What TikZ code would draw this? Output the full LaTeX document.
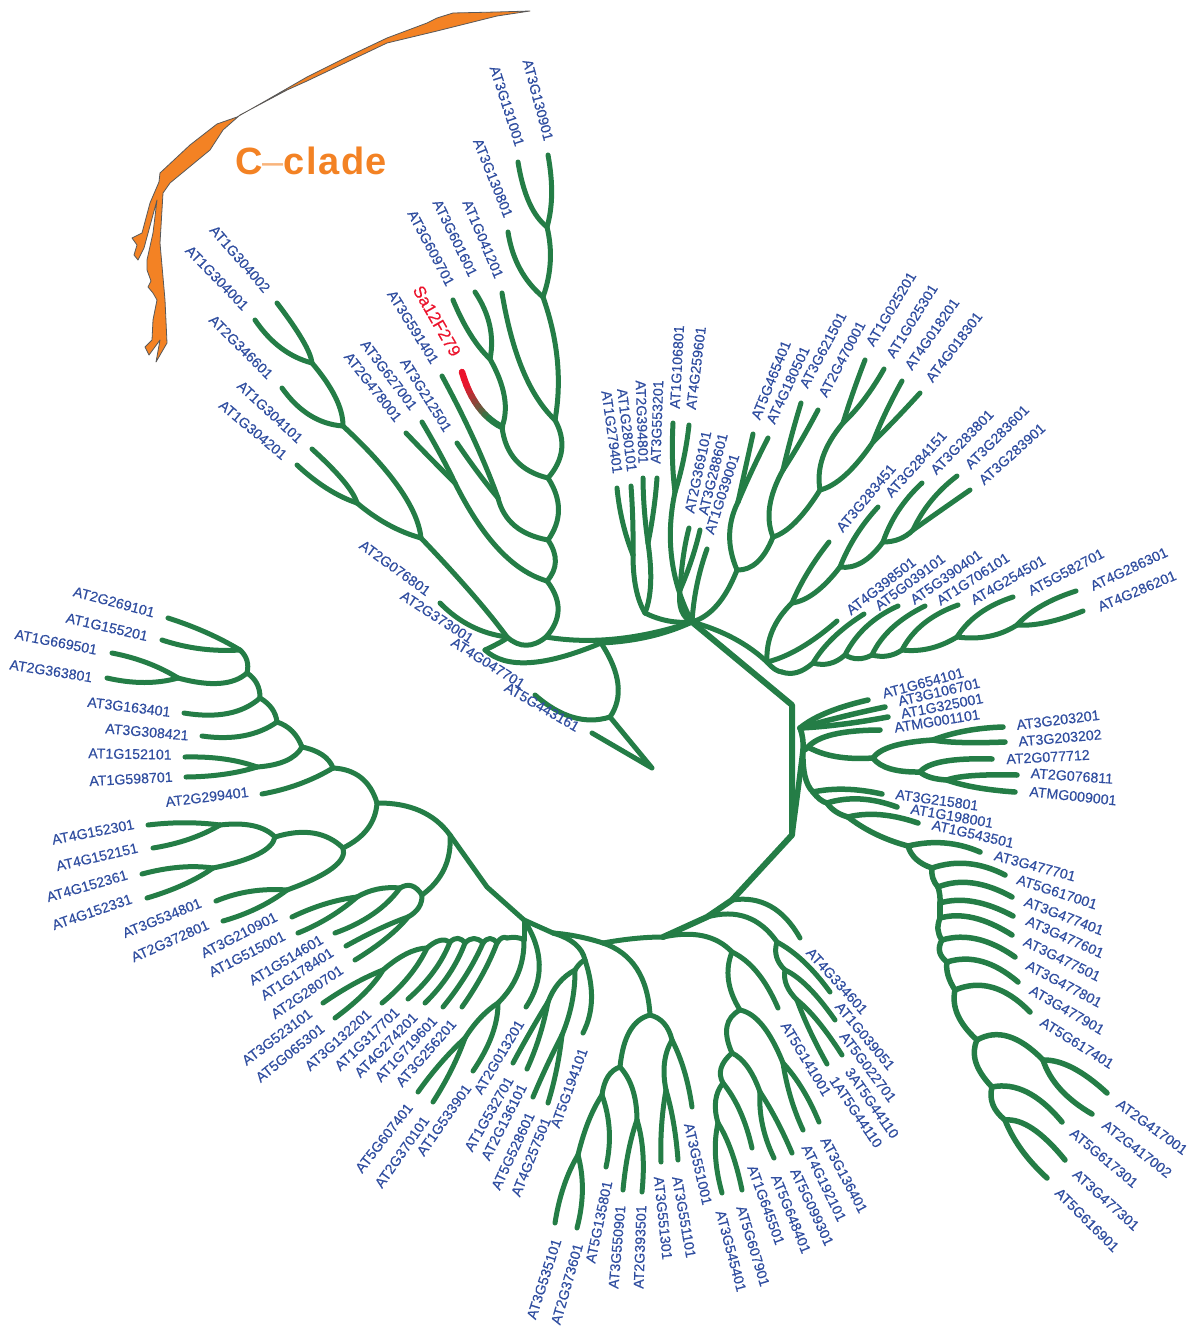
\documentclass[tikz,border=0pt]{standalone}
\usepackage{fontspec}
\setmainfont{Liberation Sans}
\newfontfamily\genefont[FakeBold=0.35]{Liberation Sans}
\usetikzlibrary{calc}
\definecolor{treegreen}{RGB}{36,125,70}
\definecolor{genblue}{RGB}{48,78,160}
\definecolor{cladeorange}{RGB}{243,130,36}
\definecolor{tipred}{RGB}{235,20,45}
\tikzset{
    branch/.style={draw=treegreen, line width=5pt, line cap=round, line join=round},
    stem/.style={draw=treegreen, line width=6pt, line cap=round, line join=round},
    gene/.style={text=genblue, font=\genefont\fontsize{14.2}{15}\selectfont, inner sep=0pt},
    redgene/.style={text=tipred, font=\genefont\fontsize{17}{18}\selectfont, inner sep=0pt},
    common settings/.style={x=1pt, y=-1pt}
}
% curved branch: from, bend point, to
\newcommand{\bend}[3]{\draw[branch] (#1) .. controls ($(#2)+0.1667*(#1)-0.1667*(#3)$) and ($(#2)-0.1667*(#1)+0.1667*(#3)$) .. (#3);}
% inner point of the tree: name, position, parent, bend point
\newcommand{\clade}[4]{\coordinate (#1) at (#2); \bend{#3}{#4}{#1}}
% tip with its label: gene, parent, bend point, tip, label centre, rotation
\newcommand{\leaf}[6]{\coordinate (#1 tip) at (#4); \bend{#2}{#3}{#1 tip}
    \node[gene, rotate=#6] (#1) at (#5) {#1};}

\begin{document}
\begin{tikzpicture}[common settings]
    \useasboundingbox (0,0) rectangle (1191,1328);

    % Collapsed C-clade
    \fill[cladeorange, draw=black!65, line width=0.8pt, line join=round] (530,11) -- (497,12) -- (453,13) -- (437,18) -- (427,23) -- (387,38) -- (347,57) -- (307,77) -- (267,100) -- (237,117) -- (217,124) -- (190,145) -- (160,173) -- (159,182) -- (150,203) -- (142,233) -- (132,238) -- (137,245) -- (134,255) -- (138,260) -- (144,248) -- (157,200) -- (153,233) -- (147,260) -- (147,270) -- (151,281) -- (148,287) -- (153,293) -- (157,300) -- (153,320) -- (152,340) -- (145,347) -- (149,355) -- (160,340) -- (156,362) -- (167,343) -- (165,300) -- (160,243) -- (163,193) -- (170,183) -- (210,150) -- (223,130) -- (240,115) -- (287,90) -- (307,81) -- (347,62) -- (387,43) -- (437,31) -- (497,16) -- cycle;
    \node[text=cladeorange, font=\fontsize{38}{39}\selectfont\bfseries\addfontfeature{LetterSpace=4}, inner sep=0pt] (cclade) at (311,161) {C{\mdseries\color{cladeorange!60}--}clade};

    % Backbone
    \coordinate (hub) at (692,622);
    \coordinate (corner1) at (792,705);
    \coordinate (corner2) at (792,835);
    \coordinate (bottom1) at (732,900);
    \coordinate (bottom2) at (707,917);
    \coordinate (bottom3) at (663,937);
    \coordinate (m3) at (524,920);
    \coordinate (m4) at (487,887);
    \coordinate (FA) at (450,835);
    \draw[stem] (hub) -- (corner1) -- (corner2) -- (bottom1) -- (bottom2) -- (bottom3);
    \clade{m1}{603,943}{bottom3}{635,938}
    \clade{m2}{553,933}{m1}{578,936}
    \draw[branch] (m2) -- (m3) -- (m4) -- (FA);

    % Upper left clades
    \clade{A}{546,637}{hub}{615,642}
    \clade{LN}{601,643}{hub}{650,638}
    \leaf{AT4G047701}{LN}{525,668}{485,650}{488,663}{-32}
    \clade{LM}{610,717}{LN}{622,685}
    \leaf{AT5G443161}{LM}{573,721}{535,695}{542,707}{-30}
    \coordinate (LP) at (652,768);
    \coordinate (LT) at (592,733);
    \draw[branch] (LM) -- (LP) -- (LT);

    \clade{B}{547,581}{A}{562,610}
    \clade{C}{507,637}{A}{526,648}
    \leaf{AT2G076801}{C}{470,628}{440,603}{395,568}{-36}
    \clade{D}{421,538}{C}{474,595}
    \leaf{AT2G373001}{C}{505,640}{485,650}{437,617}{-33}
    \clade{E}{343,426}{D}{405,490}
    \clade{F}{357,503}{D}{388,526}
    \leaf{AT1G304101}{F}{346,482}{312,449}{270,412}{-43}
    \leaf{AT1G304201}{F}{327,490}{297,465}{253,430}{-40}
    \clade{G}{312,363}{E}{338,398}
    \leaf{AT2G346601}{E}{309,418}{282,388}{241,347}{-45}
    \leaf{AT1G304002}{G}{305,342}{277,303}{240,259}{-49}
    \leaf{AT1G304001}{G}{280,350}{255,320}{217,278}{-46}

    \clade{H}{548,540}{B}{558,562}
    \clade{I}{455,483}{B}{498,555}
    \leaf{AT3G627001}{I}{441,455}{422,422}{389,375}{-53}
    \leaf{AT2G478001}{I}{430,458}{406,433}{373,387}{-52}
    \clade{J}{548,478}{H}{562,510}
    \clade{K}{498,498}{H}{512,528}
    \leaf{AT3G591401}{K}{475,440}{442,376}{413,327}{-58}
    \leaf{AT3G212501}{K}{478,473}{457,443}{426,395}{-58}
    \clade{L}{555,420}{J}{565,450}
    \clade{M}{502,427}{J}{513,463}
    % Highlighted tip, red fading into the tree colour
    \foreach \i in {0,...,11} {
        \pgfmathsetmacro{\ta}{\i/12}
        \pgfmathsetmacro{\tb}{(\i+1)/12}
        \pgfmathsetmacro{\xa}{(1-\ta)^2*462+2*(1-\ta)*\ta*474+\ta^2*502}
        \pgfmathsetmacro{\ya}{(1-\ta)^2*372+2*(1-\ta)*\ta*413+\ta^2*427}
        \pgfmathsetmacro{\xb}{(1-\tb)^2*462+2*(1-\tb)*\tb*474+\tb^2*502}
        \pgfmathsetmacro{\yb}{(1-\tb)^2*372+2*(1-\tb)*\tb*413+\tb^2*427}
        \pgfmathsetmacro{\shadeval}{max(0,min(100,125-\i*14))}
        \draw[line width=6.5pt, line cap=round, draw=tipred!\shadeval!treegreen] (\xa,\ya) -- (\xb,\yb);
    }
    \node[redgene, rotate=-60] (Sa12F279) at (437,321) {Sa12F279};
    \clade{N}{490,359}{M}{507,397}
    \leaf{AT3G609701}{N}{470,336}{453,300}{431,248}{-62}
    \leaf{AT3G601601}{N}{492,325}{475,292}{455,238}{-64}
    \clade{O}{543,297}{L}{560,360}
    \leaf{AT1G041201}{L}{521,375}{502,293}{483,239}{-67}
    \clade{P}{547,227}{O}{552,262}
    \leaf{AT3G130801}{O}{518,270}{508,232}{493,178}{-68}
    \leaf{AT3G131001}{P}{528,205}{518,162}{507,106}{-72}
    \leaf{AT3G130901}{P}{553,195}{548,155}{538,100}{-75}

    % Upper middle clades
    \clade{Q}{645,613}{hub}{668,622}
    \clade{R}{633,555}{Q}{635,590}
    \leaf{AT1G279401}{R}{622,523}{617,488}{612,432}{-82}
    \leaf{AT1G280101}{R}{633,520}{631,486}{627,430}{-83}
    \clade{S}{648,543}{Q}{652,585}
    \leaf{AT2G394801}{S}{644,510}{643,478}{642,422}{-88}
    \leaf{AT3G553201}{S}{654,510}{657,478}{657,422}{88}
    \clade{T}{675,492}{hub}{668,560}
    \leaf{AT1G106801}{T}{672,460}{673,423}{677,367}{87}
    \leaf{AT4G259601}{T}{684,460}{689,425}{696,368}{83}
    \clade{U}{680,590}{hub}{680,612}
    \leaf{AT2G369101}{U}{683,555}{689,528}{698,472}{78}
    \leaf{AT3G288601}{U}{692,560}{700,530}{713,474}{76}
    \leaf{AT1G039001}{hub}{696,585}{707,549}{722,494}{72}
    \clade{V}{737,570}{hub}{718,608}
    \clade{W}{773,537}{V}{758,565}
    \clade{X}{738,502}{V}{727,535}
    \leaf{AT5G465401}{X}{745,470}{753,434}{771,380}{68}
    \leaf{AT4G180501}{X}{752,470}{768,438}{788,385}{65}
    \clade{Y}{783,470}{W}{767,507}
    \clade{Z}{820,490}{W}{795,525}
    \leaf{AT3G621501}{Y}{791,437}{801,403}{823,350}{62}
    \leaf{AT2G470001}{Y}{800,443}{818,410}{842,359}{62}
    \clade{AA}{843,423}{Z}{820,457}
    \clade{AB}{873,442}{Z}{845,478}
    \leaf{AT1G025201}{AA}{853,392}{865,360}{891,309}{59}
    \leaf{AT1G025301}{AA}{864,401}{884,369}{912,321}{58}
    \leaf{AT4G018201}{AB}{885,413}{902,381}{932,334}{55}
    \leaf{AT4G018301}{AB}{895,420}{920,393}{954,347}{53}

    % Upper right clades
    \clade{ACa}{767,662}{hub}{735,637}
    \clade{AC}{782,672}{ACa}{775,670}
    \clade{AD}{792,603}{ACa}{770,630}
    \leaf{AT3G283451}{AD}{807,572}{829,542}{866,498}{50}
    \clade{AE}{840,567}{AD}{815,595}
    \leaf{AT3G284151}{AE}{855,535}{878,507}{916,464}{48}
    \clade{AF}{883,542}{AE}{862,565}
    \leaf{AT3G283801}{AF}{897,510}{922,483}{962,442}{46}
    \clade{AG}{913,530}{AF}{900,540}
    \leaf{AT3G283601}{AG}{930,500}{957,476}{997,437}{45}
    \leaf{AT3G283901}{AG}{937,513}{970,490}{1012,454}{42}

    \leaf{AT4G398501}{ACa}{800,650}{837,621}{881,586}{38}
    \clade{Ba}{813,663}{AC}{797,674}
    \leaf{AT5G039101}{Ba}{832,637}{864,614}{910,582}{37}
    \clade{Bb}{845,655}{Ba}{830,665}
    \leaf{AT5G390401}{Bb}{865,625}{898,606}{946,577}{35}
    \clade{Bc}{872,655}{Bb}{858,660}
    \leaf{AT1G706101}{Bc}{890,627}{925,606}{973,579}{33}
    \clade{Bd}{902,650}{Bc}{888,657}
    \leaf{AT4G254501}{Bd}{922,622}{958,605}{1008,580}{30}
    \clade{Be}{957,637}{Bd}{930,650}
    \leaf{AT5G582701}{Be}{978,612}{1013,597}{1066,572}{28}
    \clade{Bf}{1017,625}{Be}{990,638}
    \leaf{AT4G286301}{Bf}{1040,605}{1076,591}{1129,569}{25}
    \leaf{AT4G286201}{Bf}{1045,624}{1083,611}{1137,591}{23}

    % Right clades
    \begin{scope}[branch/.append style={line width=5.5pt}]
    \clade{RA}{803,750}{corner2}{798,790}
    \clade{RB}{800,728}{RA}{803,738}
    \leaf{AT1G654101}{RB}{825,712}{868,700}{923,683}{15}
    \leaf{AT3G106701}{RB}{840,717}{885,707}{939,692}{13}
    \leaf{AT1G325001}{RB}{840,725}{888,717}{942,706}{11}
    \clade{RC}{808,747}{RA}{805,750}
    \leaf{ATMG001101}{RC}{830,733}{880,730}{937,721}{9}
    \clade{RD}{873,758}{RC}{835,758}
    \clade{RE}{933,740}{RD}{890,745}
    \clade{RF}{920,772}{RD}{888,770}
    \leaf{AT3G203201}{RE}{965,730}{1003,727}{1058,720}{7}
    \leaf{AT3G203202}{RE}{960,743}{1005,742}{1060,738}{5}
    \leaf{AT2G077712}{RF}{940,760}{992,759}{1048,757}{3}
    \clade{RG}{947,780}{RF}{930,778}
    \leaf{AT2G076811}{RG}{970,775}{1017,775}{1072,776}{-4}
    \leaf{ATMG009001}{RG}{975,788}{1015,792}{1073,796}{-6}

    \clade{RH}{813,792}{RA}{804,778}
    \leaf{AT3G215801}{RH}{845,788}{882,794}{937,800}{-8}
    \clade{RI}{827,803}{RH}{820,800}
    \leaf{AT1G198001}{RI}{860,797}{897,807}{952,816}{-10}
    \clade{RJ}{848,817}{RI}{835,812}
    \leaf{AT1G543501}{RJ}{880,813}{918,823}{973,834}{-13}
    \clade{RK}{908,846}{RJ}{875,835}
    \leaf{AT3G477701}{RK}{945,841}{980,852}{1035,866}{-15}
    \clade{Ra}{932,868}{RK}{915,860}
    \leaf{AT5G617001}{Ra}{968,861}{1005,875}{1057,892}{-18}
    \clade{Rb}{938,887}{Ra}{932,878}
    \leaf{AT3G477401}{Rb}{972,880}{1012,897}{1064,916}{-21}
    \clade{Rc}{940,903}{Rb}{940,895}
    \leaf{AT3G477601}{Rc}{973,899}{1013,916}{1065,937}{-24}
    \clade{Rd}{940,918}{Rc}{940,910}
    \leaf{AT3G477501}{Rd}{973,915}{1012,935}{1062,959}{-26}
    \clade{Re}{942,940}{Rd}{937,930}
    \leaf{AT3G477801}{Re}{977,936}{1015,957}{1064,984}{-28}
    \clade{Rf}{947,962}{Re}{938,952}
    \leaf{AT3G477901}{Rf}{982,958}{1018,982}{1067,1010}{-30}
    \clade{Rg}{955,990}{Rf}{947,975}
    \leaf{AT5G617401}{Rg}{993,983}{1030,1012}{1077,1043}{-32}
    \clade{Rh}{977,1040}{Rg}{955,1015}
    \clade{Ri}{1043,1060}{Rh}{1008,1032}
    \clade{Rj}{992,1087}{Rh}{973,1062}
    \leaf{AT2G417001}{Ri}{1072,1065}{1107,1093}{1152,1127}{-36}
    \leaf{AT2G417002}{Ri}{1058,1090}{1092,1114}{1137,1149}{-38}
    \leaf{AT5G617301}{Rj}{1027,1088}{1062,1122}{1104,1158}{-40}
    \clade{Rk}{1005,1120}{Rj}{991,1105}
    \leaf{AT3G477301}{Rk}{1032,1125}{1065,1160}{1106,1200}{-42}
    \leaf{AT5G616901}{Rk}{1020,1150}{1047,1178}{1087,1220}{-45}
    \end{scope}

    % Lower right clades
    \leaf{AT4G334601}{bottom1}{772,902}{800,938}{837,981}{-48}
    \clade{BC}{777,942}{bottom2}{748,913}
    \leaf{AT1G039051}{BC}{804,960}{830,992}{865,1036}{-50}
    \clade{BD}{785,970}{BC}{775,957}
    \leaf{AT5G022701}{BD}{808,985}{835,1020}{868,1067}{-53}
    \clade{BE}{797,1000}{BD}{785,985}
    \leaf{3AT5G44110}{BE}{818,1020}{842,1055}{872,1103}{-55}
    \leaf{1AT5G44110}{BE}{809,1030}{827,1064}{856,1112}{-56}

    \clade{BF}{732,952}{bottom3}{705,933}
    \leaf{AT5G141001}{BF}{758,970}{778,1008}{806,1059}{-59}
    \clade{BG}{740,1010}{BF}{726,980}
    \clade{BH}{783,1063}{BG}{763,1022}
    \clade{BI}{732,1053}{BG}{724,1025}
    \leaf{AT3G136401}{BH}{803,1088}{819,1122}{844,1175}{-62}
    \leaf{AT4G192101}{BH}{790,1098}{803,1130}{824,1183}{-64}
    \clade{BJ}{760,1092}{BI}{748,1065}
    \clade{BK}{723,1083}{BI}{719,1068}
    \leaf{AT5G099301}{BJ}{777,1120}{792,1153}{812,1207}{-65}
    \leaf{AT5G648401}{BJ}{761,1125}{774,1158}{791,1214}{-68}
    \leaf{AT1G645501}{BK}{741,1110}{752,1148}{766,1205}{-70}
    \clade{BL}{718,1123}{BK}{714,1100}
    \leaf{AT5G607901}{BL}{732,1150}{742,1190}{753,1246}{-73}
    \leaf{AT3G545401}{BL}{714,1155}{722,1193}{731,1251}{-75}

    % Bottom clades
    \clade{CB}{650,1015}{m1}{640,965}
    \clade{CC}{620,1067}{CB}{628,1028}
    \clade{CD}{672,1040}{CB}{665,1022}
    \leaf{AT3G551001}{CD}{685,1070}{692,1107}{698,1164}{-77}
    \clade{CE}{666,1090}{CD}{663,1062}
    \leaf{AT3G551101}{CE}{674,1122}{678,1160}{684,1217}{-80}
    \leaf{AT3G551301}{CE}{661,1125}{661,1162}{663,1218}{-84}
    \clade{CF}{602,1095}{CC}{607,1075}
    \clade{CG}{637,1120}{CC}{634,1088}
    \leaf{AT3G550901}{CG}{628,1150}{623,1190}{617,1247}{85}
    \leaf{AT2G393501}{CG}{644,1152}{642,1192}{640,1247}{88}
    \leaf{AT5G135801}{CF}{611,1130}{606,1167}{599,1222}{78}
    \clade{CH}{578,1155}{CF}{588,1120}
    \leaf{AT3G535101}{CH}{563,1185}{555,1223}{544,1279}{72}
    \leaf{AT2G373601}{CH}{584,1190}{577,1228}{567,1284}{74}

    \clade{DB}{585,960}{m2}{577,943}
    \leaf{AT5G194101}{DB}{594,1000}{583,1033}{569,1088}{70}
    \clade{DC}{575,970}{DB}{580,963}
    \clade{DD}{562,1035}{DC}{573,1003}
    \leaf{AT4G257501}{DD}{557,1070}{548,1103}{531,1157}{68}
    \leaf{AT5G528601}{DD}{547,1065}{533,1097}{513,1151}{65}
    \clade{DE}{548,1002}{DC}{558,982}
    \leaf{AT2G136101}{DE}{540,1037}{527,1069}{504,1122}{63}
    \leaf{AT1G532701}{DE}{530,1032}{513,1063}{489,1114}{60}

    \leaf{AT2G013201}{m3}{544,965}{526,1007}{499,1057}{59}
    \coordinate (m5) at (524,940);
    \draw[branch] (m3) -- (m5);
    \clade{EB}{498,1003}{m5}{520,975}
    \leaf{AT1G533901}{EB}{494,1035}{473,1071}{444,1120}{55}
    \clade{EC}{465,1038}{EB}{480,1017}
    \leaf{AT2G370101}{EC}{452,1070}{433,1102}{402,1152}{55}
    \leaf{AT5G607401}{EC}{440,1063}{418,1092}{384,1138}{52}

    \clade{GA}{507,938}{m5}{517,937}
    \clade{GB}{497,943}{GA}{502,937}
    \leaf{AT3G256201}{GB}{483,975}{462,1007}{426,1053}{49}
    \clade{GC}{483,943}{GB}{490,937}
    \leaf{AT1G719601}{GC}{467,975}{443,1007}{406,1049}{47}
    \clade{GD}{465,943}{GC}{474,937}
    \leaf{AT4G274201}{GD}{450,975}{425,1003}{386,1045}{46}
    \clade{GE}{450,942}{GD}{458,937}
    \leaf{AT1G317701}{GE}{435,972}{408,999}{367,1039}{44}
    \clade{GF}{427,948}{GE}{440,939}
    \leaf{AT3G132201}{GF}{410,977}{382,1003}{338,1040}{42}
    \clade{GG}{383,970}{GF}{407,952}
    \leaf{AT3G523101}{GG}{354,983}{323,1003}{277,1037}{37}
    \leaf{AT5G065301}{GG}{366,993}{335,1018}{290,1053}{39}

    % Left clades
    \clade{FB}{377,803}{FA}{422,808}
    \clade{FC}{422,895}{FA}{447,870}
    \clade{FE}{408,917}{FC}{420,908}
    \leaf{AT1G178401}{FE}{380,928}{346,946}{297,974}{33}
    \leaf{AT2G280701}{FE}{388,938}{355,960}{307,992}{34}
    \clade{FF}{400,888}{FC}{412,884}
    \leaf{AT1G514601}{FF}{375,915}{335,933}{286,960}{31}
    \clade{FG}{357,897}{FF}{377,888}
    \leaf{AT3G210901}{FG}{325,903}{292,917}{239,935}{27}
    \leaf{AT1G515001}{FG}{330,918}{298,933}{247,954}{27}

    \clade{FH}{343,848}{FB}{370,830}
    \clade{FI}{333,768}{FB}{363,775}
    \clade{FJ}{275,837}{FH}{315,830}
    \clade{FK}{287,890}{FH}{338,868}
    \leaf{AT3G534801}{FK}{250,890}{216,901}{162,918}{22}
    \leaf{AT2G372801}{FK}{258,909}{223,921}{170,941}{24}
    \clade{FL}{220,825}{FJ}{255,824}
    \clade{FM}{213,868}{FJ}{262,855}
    \leaf{AT4G152301}{FL}{185,822}{148,825}{93,832}{11}
    \leaf{AT4G152151}{FL}{190,840}{153,848}{97,857}{13}
    \leaf{AT4G152361}{FM}{180,866}{142,874}{87,886}{16}
    \leaf{AT4G152331}{FM}{185,885}{147,898}{92,912}{19}

    \clade{FN}{302,747}{FI}{324,754}
    \leaf{AT2G299401}{FI}{300,785}{262,794}{207,797}{7}
    \clade{FO}{277,722}{FN}{293,730}
    \clade{FP}{257,767}{FN}{288,762}
    \leaf{AT1G152101}{FP}{225,758}{185,757}{130,754}{-1}
    \leaf{AT1G598701}{FP}{225,775}{186,777}{131,779}{3}
    \clade{FQ}{260,698}{FO}{273,708}
    \leaf{AT3G308421}{FO}{245,738}{202,736}{147,732}{-5}
    \clade{FR}{247,673}{FQ}{258,683}
    \leaf{AT3G163401}{FQ}{230,716}{184,713}{129,707}{-7}
    \clade{FS}{240,650}{FR}{248,660}
    \clade{FT}{178,678}{FR}{222,686}
    \leaf{AT2G269101}{FS}{207,632}{168,618}{114,602}{-15}
    \leaf{AT1G155201}{FS}{200,650}{162,640}{107,627}{-13}
    \leaf{AT1G669501}{FT}{148,662}{112,653}{56,642}{-11}
    \leaf{AT2G363801}{FT}{145,684}{107,678}{51,671}{-9}

\end{tikzpicture}
\end{document}
